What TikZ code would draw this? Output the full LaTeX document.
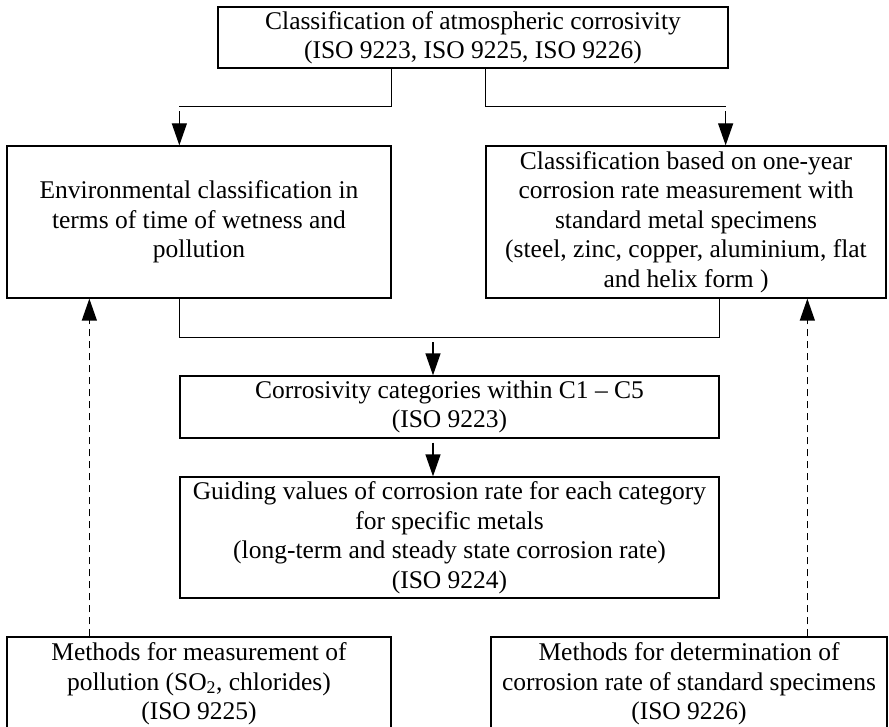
\documentclass[tikz,border=0pt]{standalone}
\usepackage{fontspec}
\setmainfont{Liberation Serif}
\usetikzlibrary{arrows.meta, positioning, calc}
\tikzset{box/.style={rectangle,draw,line width=1.3pt,align=center,inner sep=0pt,font=\fontsize{25.5}{29.5}\selectfont},
         link/.style={line width=1.3pt},
         arrow/.style={-{Triangle[length=22pt,width=15pt]},line width=1.3pt},
         dasharrow/.style={arrow,dash pattern=on 7pt off 5pt}}

\begin{document}
\begin{tikzpicture}[x=1pt,y=-1pt]
    \useasboundingbox (0,0) rectangle (889,727);
    \node (top) [box, minimum width=510pt, minimum height=61pt] at (473,37.5) {Classification of atmospheric corrosivity\\(ISO 9223, ISO 9225, ISO 9226)};
    \node (env) [box, minimum width=384pt, minimum height=152pt] at (199,222) {Environmental classification in\\terms of time of wetness and\\pollution};
    \node (rate) [box, minimum width=400pt, minimum height=152pt] at (686,222) {Classification based on one-year\\corrosion rate measurement with\\standard metal specimens\\(steel, zinc, copper, aluminium, flat\\and helix form )};
    \node (cat) [box, minimum width=539pt, minimum height=62pt] at (449.5,407) {Corrosivity categories within C1 -- C5\\(ISO 9223)};
    \node (guide) [box, minimum width=539pt, minimum height=121pt] at (449.5,537.5) {Guiding values of corrosion rate for each category\\for specific metals\\(long-term and steady state corrosion rate)\\(ISO 9224)};
    \node (pol) [box, minimum width=384pt, minimum height=94pt] at (199,684) {Methods for measurement of\\pollution (SO\textsubscript{2}, chlorides)\\(ISO 9225)};
    \node (spec) [box, minimum width=396pt, minimum height=94pt] at (689,684) {Methods for determination of\\corrosion rate of standard specimens\\(ISO 9226)};
    % split below the top box
    \draw[link] (top.south -| env.east) |- ($(env.north -| cat.west)+(0,-39)$);
    \draw[arrow] ($(env.north -| cat.west)+(0,-34)$) -- (env.north -| cat.west);
    \draw[link] (top.south -| rate.west) |- ($(rate.north -| cat.east)+(6,-39)$);
    \draw[arrow] ($(rate.north -| cat.east)+(6,-34)$) -- ($(rate.north -| cat.east)+(6,0)$);
    % join into the categories
    \draw[link] (env.south -| cat.west) |- ($(rate.south -| cat.east)+(0,39)$) -- (rate.south -| cat.east);
    \draw[arrow] ($(cat.north)+(-16.5,-33)$) -- ($(cat.north)+(-16.5,0)$);
    \draw[arrow] ($(cat.south)+(-16.5,4)$) -- ($(guide.north)+(-16.5,0)$);
    % measurement methods feed back
    \draw[dasharrow] ([xshift=83pt]pol.north west) -- ([xshift=83pt]env.south west);
    \draw[dasharrow] ([xshift=317pt]spec.north west) -- ([xshift=322pt]rate.south west);
\end{tikzpicture}
\end{document}
